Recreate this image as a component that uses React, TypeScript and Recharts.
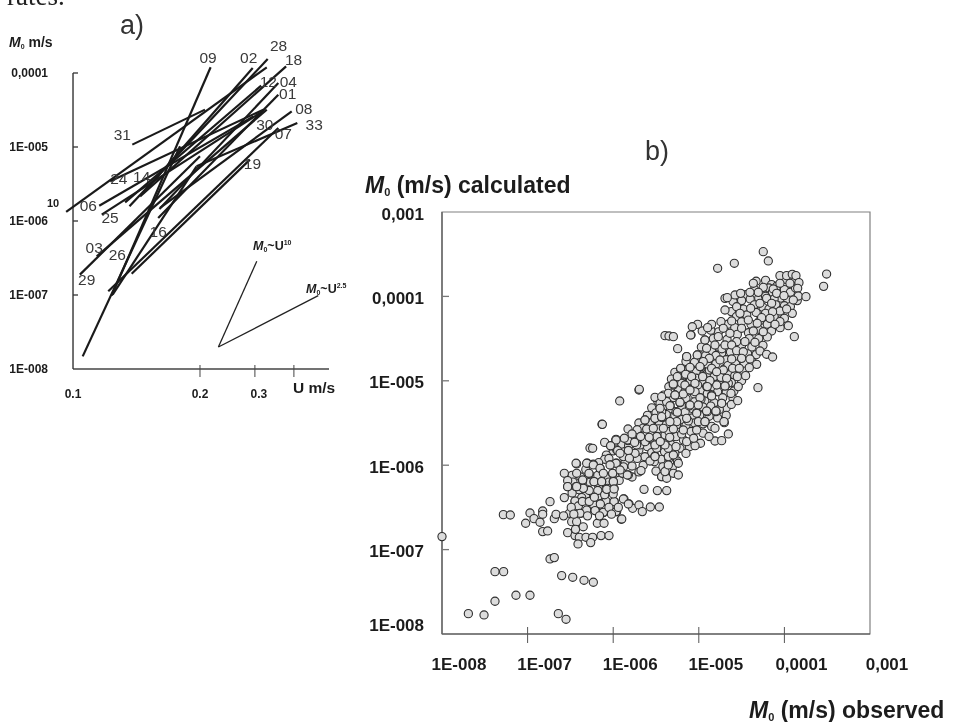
import React from "react";
import {
  ComposedChart,
  Line,
  ReferenceDot,
  ReferenceLine,
  ScatterChart,
  Scatter,
  ReferenceArea,
  XAxis,
  YAxis,
} from "recharts";

const FONT = '"Liberation Sans", Arial, sans-serif';
const INK = "#1c1c1c";

// panel a) everything is log10(U), log10(M0)
const uTicks = [-1.106, -0.699, -0.523, -0.398];
const uTickLabels = ["0.1", "0.2", "0.3", ""];
const moTicksA = [-8, -7, -6, -5, -4];
const moLabelsA = ["1E-008", "1E-007", "1E-006", "1E-005", "0,0001"];

const runs = [
  { id: "09", u: [-0.982, -0.665], m: [-7.009, -3.923] },
  { id: "02", u: [-0.881, -0.53], m: [-5.622, -3.932] },
  { id: "28", u: [-0.925, -0.482], m: [-5.802, -3.811] },
  { id: "10", u: [-1.128, -0.485], m: [-5.878, -3.923] },
  { id: "18", u: [-0.891, -0.423], m: [-5.667, -3.91] },
  { id: "12", u: [-0.939, -0.503], m: [-5.748, -4.171] },
  { id: "04", u: [-0.829, -0.448], m: [-5.838, -4.135] },
  { id: "01", u: [-0.833, -0.448], m: [-5.959, -4.293] },
  { id: "08", u: [-0.827, -0.405], m: [-5.824, -4.518] },
  { id: "33", u: [-0.71, -0.387], m: [-5.261, -4.676] },
  { id: "07", u: [-0.993, -0.448], m: [-6.95, -4.743] },
  { id: "19", u: [-0.918, -0.539], m: [-6.712, -5.171] },
  { id: "31", u: [-0.916, -0.683], m: [-4.968, -4.495] },
  { id: "24", u: [-0.987, -0.496], m: [-5.464, -4.495] },
  { id: "06", u: [-1.022, -0.528], m: [-5.793, -4.586] },
  { id: "25", u: [-1.014, -0.507], m: [-5.914, -4.541] },
  { id: "03", u: [-1.03, -0.485], m: [-6.477, -4.495] },
  { id: "29", u: [-1.084, -0.699], m: [-6.725, -5.126] },
  { id: "26", u: [-1.075, -0.763], m: [-7.829, -4.991] },
  { id: "16", u: [-0.979, -0.71], m: [-6.995, -5.261] },
];

const slopeGuides = [
  { id: "U10", u: [-0.64, -0.517], m: [-7.703, -6.545] },
  { id: "U2.5", u: [-0.64, -0.32], m: [-7.703, -7.009] },
];

const runLabels: [string, number, number][] = [
  ["09", -0.673, -3.788],
  ["02", -0.543, -3.788],
  ["28", -0.447, -3.631],
  ["18", -0.399, -3.811],
  ["12", -0.48, -4.113],
  ["04", -0.416, -4.113],
  ["01", -0.418, -4.279],
  ["08", -0.366, -4.486],
  ["33", -0.333, -4.698],
  ["07", -0.432, -4.82],
  ["30", -0.491, -4.698],
  ["19", -0.531, -5.225],
  ["31", -0.948, -4.833],
  ["24", -0.959, -5.432],
  ["14", -0.886, -5.396],
  ["06", -1.057, -5.793],
  ["25", -0.987, -5.95],
  ["03", -1.038, -6.356],
  ["26", -0.964, -6.455],
  ["16", -0.833, -6.14],
  ["29", -1.062, -6.793],
];

// panel b) log10(observed), log10(calculated)
const obsTicks = [-8, -7, -6, -5, -4, -3];
const calcTicks = [-8, -7, -6, -5, -4, -3];
const tickLabelsB = ["1E-008", "1E-007", "1E-006", "1E-005", "0,0001", "0,001"];

const lowTail: [number, number][] = [
  [-8.0, -6.846], [-7.283, -6.586], [-7.202, -6.59], [-7.692, -7.759], [-7.509, -7.774],
  [-7.381, -7.261], [-7.28, -7.261], [-7.381, -7.612], [-7.136, -7.541], [-6.972, -7.541],
  [-6.641, -7.759], [-6.551, -7.826], [-6.738, -7.111], [-6.688, -7.095], [-6.602, -7.308],
  [-6.473, -7.328], [-6.341, -7.364], [-6.232, -7.387], [-7.023, -6.688], [-6.972, -6.566],
  [-6.925, -6.633], [-6.855, -6.676], [-6.824, -6.542], [-6.824, -6.582], [-6.824, -6.787],
  [-6.766, -6.779], [-6.688, -6.633], [-6.668, -6.582], [-6.738, -6.432], [-6.571, -6.384],
  [-6.532, -6.799], [-6.446, -6.834], [-6.396, -6.854], [-6.318, -6.854], [-6.24, -6.854],
  [-6.142, -6.834], [-6.049, -6.834], [-6.411, -6.933], [-6.263, -6.917],
];

const lowerBand: [number, number][] = [
  [-6.512, -6.57], [-6.485, -6.669], [-6.427, -6.669], [-6.376, -6.57], [-6.298, -6.538],
  [-6.205, -6.538], [-6.115, -6.562], [-6.185, -6.688], [-6.107, -6.688], [-5.959, -6.55],
  [-5.905, -6.641], [-6.446, -6.432], [-6.415, -6.491], [-6.322, -6.372], [-6.232, -6.471],
  [-6.174, -6.364], [-6.088, -6.432], [-5.987, -6.432], [-5.874, -6.4], [-5.815, -6.459],
  [-5.773, -6.511], [-5.699, -6.471], [-5.66, -6.55], [-5.566, -6.495], [-5.461, -6.495],
  [-6.322, -6.364], [-6.368, -6.384], [-6.174, -6.364], [-6.446, -6.424], [-6.24, -6.412],
  [-6.084, -6.424], [-5.99, -6.432], [-5.881, -6.4], [-5.823, -6.459], [-6.407, -6.483],
  [-6.232, -6.463], [-6.31, -6.53], [-6.212, -6.538], [-6.388, -6.57], [-6.115, -6.558],
  [-5.967, -6.55], [-5.9, -6.637],
];

const midBand: [number, number][] = [
  [-6.571, -6.096], [-6.532, -6.183], [-6.532, -6.254], [-6.427, -5.985], [-6.427, -6.096],
  [-6.435, -6.254], [-6.349, -6.274], [-6.357, -6.183], [-6.302, -5.977], [-6.279, -6.104],
  [-6.232, -5.989], [-6.154, -6.037], [-6.224, -6.195], [-6.135, -6.195], [-6.068, -6.274],
  [-5.999, -6.195], [-5.99, -6.274], [-6.006, -6.104], [-5.893, -6.096], [-5.823, -6.116],
  [-6.03, -5.997], [-5.96, -5.977], [-5.675, -6.064], [-5.64, -6.286], [-5.484, -6.301],
  [-5.375, -6.301], [-5.57, -5.95], [-5.434, -6.136], [-5.375, -6.057], [-5.375, -6.136],
  [-6.434, -5.977], [-6.31, -5.977], [-6.232, -5.997], [-6.154, -6.037], [-6.283, -6.096],
  [-6.115, -6.096], [-6.006, -6.096], [-5.89, -6.096], [-6.357, -6.175], [-6.224, -6.195],
  [-6.135, -6.195], [-5.998, -6.195], [-6.076, -6.286], [-5.99, -6.282], [-6.349, -6.274],
  [-6.427, -6.254], [-6.532, -6.254], [-5.434, -6.135], [-5.375, -6.155], [-5.297, -6.096],
  [-5.239, -6.116], [-5.395, -6.076], [-5.959, -5.819], [-5.823, -5.827], [-5.745, -5.859],
  [-5.881, -5.898], [-5.967, -5.977], [-6.037, -5.997], [-5.92, -6.056], [-5.835, -6.116],
  [-5.356, -5.898], [-5.512, -5.891], [-5.297, -5.879], [-5.356, -5.997], [-5.239, -5.977],
];

const upperMidBand: [number, number][] = [
  [-6.131, -5.515], [-5.827, -5.571], [-6.271, -5.796], [-6.24, -5.8], [-6.03, -5.772],
  [-5.967, -5.701], [-5.948, -5.827], [-5.823, -5.709], [-5.823, -5.827], [-5.811, -5.918],
  [-5.92, -5.859], [-5.687, -5.76], [-5.617, -5.709], [-5.617, -5.563], [-5.512, -5.898],
  [-5.453, -5.622], [-5.395, -5.74], [-5.395, -5.563], [-5.609, -5.484], [-5.492, -5.484],
  [-5.356, -5.8], [-5.297, -5.563], [-5.297, -5.662], [-5.57, -5.681], [-5.492, -5.8],
  [-5.967, -5.693], [-5.835, -5.701], [-5.726, -5.721], [-5.628, -5.701], [-5.473, -5.504],
  [-5.648, -5.504], [-5.967, -5.701], [-5.831, -5.701], [-6.03, -5.769], [-5.726, -5.76],
  [-5.512, -5.76], [-5.395, -5.76], [-5.266, -5.78], [-5.628, -5.721], [-5.395, -5.642],
  [-5.266, -5.662], [-5.142, -5.721], [-5.044, -5.769], [-4.811, -5.713], [-4.733, -5.709],
  [-4.655, -5.63],
];

const denseCore: [number, number][] = [
  [-5.395, -4.465], [-5.348, -4.469], [-5.297, -4.477], [-5.091, -4.457], [-5.247, -4.619],
  [-5.699, -5.109], [-5.924, -5.239], [-6.127, -5.516], [-5.512, -5.196], [-4.928, -4.516],
  [-5.142, -4.714], [-5.017, -4.694], [-4.889, -4.753], [-4.822, -4.674], [-4.928, -4.655],
  [-4.733, -4.674], [-5.103, -4.832], [-5.212, -4.864], [-4.974, -4.832], [-4.877, -4.872],
  [-4.791, -4.892], [-4.694, -4.852], [-5.161, -4.931], [-5.247, -4.951], [-5.083, -4.951],
  [-4.955, -4.943], [-4.869, -5.01], [-4.741, -4.959], [-4.655, -5.03], [-5.297, -5.05],
  [-5.2, -5.03], [-5.103, -5.109], [-5.013, -5.05], [-4.908, -5.069], [-4.791, -5.05],
  [-4.694, -5.061], [-5.356, -5.148], [-5.278, -5.168], [-5.181, -5.156], [-5.044, -5.129],
  [-4.974, -5.216], [-4.85, -5.168], [-4.733, -5.267], [-5.453, -5.267], [-5.336, -5.287],
  [-5.22, -5.259], [-5.111, -5.298], [-5.025, -5.377], [-4.9, -5.366], [-4.799, -5.366],
  [-5.434, -5.366], [-5.512, -5.445], [-5.628, -5.464], [-5.609, -5.571], [-5.434, -5.433],
  [-5.266, -5.366], [-5.259, -5.484], [-5.122, -5.476], [-5.005, -5.484], [-4.928, -5.484],
  [-4.811, -5.563], [-4.702, -5.496], [-5.531, -5.563], [-5.414, -5.563], [-5.297, -5.571],
  [-5.181, -5.583], [-5.025, -5.583],
];

const upperBand: [number, number][] = [
  [-4.247, -3.47], [-4.188, -3.58], [-4.585, -3.608], [-4.78, -3.667], [-3.507, -3.735],
  [-3.542, -3.881], [-3.884, -4.477], [-4.309, -5.081], [-5.695, -5.101], [-4.052, -3.754],
  [-3.974, -3.754], [-3.908, -3.738], [-3.865, -3.754], [-4.052, -3.845], [-3.935, -3.845],
  [-3.83, -3.837], [-3.845, -3.904], [-4.363, -3.845], [-4.247, -3.893], [-4.13, -3.912],
  [-4.305, -3.952], [-4.402, -3.952], [-4.091, -3.964], [-4.005, -3.991], [-3.838, -3.995],
  [-3.748, -4.003], [-3.896, -4.043], [-4.577, -3.983], [-4.511, -3.964], [-4.694, -4.023],
  [-4.667, -4.015], [-4.208, -4.023], [-4.149, -4.082], [-4.286, -4.082], [-4.394, -4.141],
  [-4.558, -4.122], [-4.694, -4.161], [-4.519, -4.201], [-4.052, -4.173], [-4.138, -4.181],
  [-3.908, -4.201], [-3.974, -4.149], [-4.266, -4.252], [-4.169, -4.26], [-4.422, -4.28],
  [-4.616, -4.291], [-4.052, -4.299], [-3.954, -4.347], [-4.317, -4.319], [-4.11, -4.331],
  [-4.741, -4.299], [-4.85, -4.331], [-5.014, -4.331], [-5.076, -4.359], [-4.897, -4.37],
  [-4.714, -4.378], [-4.5, -4.378], [-4.363, -4.41], [-4.247, -4.418], [-4.636, -4.437],
  [-5.095, -4.457], [-4.928, -4.517], [-4.772, -4.477], [-4.558, -4.536], [-4.461, -4.536],
  [-4.344, -4.544], [-4.811, -4.576], [-4.694, -4.576], [-4.909, -4.615], [-4.616, -4.576],
  [-4.558, -4.643], [-4.48, -4.655], [-4.285, -4.647], [-4.208, -4.686], [-4.138, -4.718],
  [-5.018, -4.694], [-5.142, -4.714], [-4.877, -4.734], [-4.5, -4.734], [-4.753, -4.753],
  [-4.616, -4.742], [-4.402, -4.742], [-4.324, -4.805], [-4.41, -4.844], [-4.948, -4.773],
  [-5.212, -4.852], [-5.103, -4.84], [-4.986, -4.832], [-4.85, -4.852], [-4.714, -4.872],
  [-4.605, -4.852], [-4.527, -4.852], [-4.792, -4.892], [-5.251, -4.951], [-5.154, -4.923],
  [-5.084, -4.951], [-4.955, -4.951], [-4.87, -4.998], [-4.55, -4.951], [-4.453, -4.939],
  [-4.675, -4.971], [-5.298, -5.038], [-5.162, -5.05], [-5.045, -5.03], [-4.901, -5.069],
  [-4.694, -5.061], [-4.539, -5.069], [-5.103, -5.109], [-5.278, -5.168], [-4.986, -5.2],
  [-4.85, -5.18], [-4.624, -5.149], [-4.546, -5.235], [-4.733, -5.267], [-5.22, -5.255],
  [-5.103, -5.287], [-5.006, -5.287], [-5.376, -5.247], [-5.434, -5.188], [-5.453, -5.326],
  [-5.337, -5.295], [-4.909, -5.358], [-4.8, -5.358], [-5.251, -5.373], [-5.434, -5.425],
  [-5.142, -5.445], [-5.025, -5.385], [-5.629, -5.464], [-4.706, -5.484], [-5.337, -5.484],
  [-4.928, -5.484],
];

// second pass through the crowded part of the cloud
const crowdedTop: [number, number][] = [
  [-4.33, -3.82], [-4.22, -3.81], [-4.15, -3.86], [-3.98, -3.8], [-3.89, -3.79], [-4.09, -3.88],
  [-4.18, -3.9], [-4.0, -3.92], [-3.93, -3.95], [-3.87, -3.9], [-4.26, -3.96], [-4.35, -3.92],
  [-4.45, -3.98], [-4.14, -3.95], [-4.04, -4.02], [-3.96, -4.05], [-3.85, -4.05], [-4.3, -4.02],
  [-4.22, -4.0], [-4.12, -4.03], [-4.4, -4.03], [-4.5, -4.05], [-4.6, -4.06], [-4.35, -4.1],
  [-4.25, -4.13], [-4.1, -4.1], [-4.0, -4.11], [-3.93, -4.12], [-4.18, -4.15], [-4.48, -4.15],
  [-4.62, -4.18], [-4.05, -4.2], [-4.22, -4.2], [-4.33, -4.19], [-4.44, -4.22], [-4.56, -4.24],
  [-4.12, -4.24], [-4.0, -4.26], [-4.29, -4.29], [-4.39, -4.33], [-4.5, -4.3], [-4.2, -4.33],
  [-4.66, -4.33], [-4.58, -4.37], [-4.05, -4.37], [-4.3, -4.39], [-4.42, -4.43], [-4.15, -4.41],
  [-4.77, -4.42], [-4.86, -4.4], [-4.96, -4.41], [-4.55, -4.45], [-4.2, -4.48], [-4.3, -4.5],
  [-4.67, -4.51], [-4.41, -4.5], [-4.83, -4.5], [-4.5, -4.58], [-4.38, -4.6], [-4.25, -4.58],
  [-4.73, -4.62], [-4.63, -4.66], [-4.85, -4.64], [-4.97, -4.6], [-4.43, -4.68], [-4.33, -4.69],
  [-4.56, -4.72], [-4.8, -4.7], [-4.68, -4.75], [-4.92, -4.7], [-5.05, -4.78], [-4.47, -4.79],
  [-4.57, -4.8], [-4.37, -4.78], [-4.8, -4.8], [-4.9, -4.8], [-5.15, -4.77], [-4.66, -4.82],
];

const crowdedMiddle: [number, number][] = [
  [-4.47, -4.88], [-4.75, -4.92], [-4.65, -4.9], [-4.9, -4.91], [-5.03, -4.89], [-5.17, -4.88],
  [-5.28, -4.9], [-4.58, -4.94], [-4.82, -4.95], [-5.03, -4.97], [-5.2, -4.98], [-5.32, -4.98],
  [-4.5, -5.0], [-4.62, -5.02], [-4.75, -5.02], [-4.95, -5.02], [-5.1, -5.0], [-5.24, -5.09],
  [-5.35, -5.07], [-4.82, -5.08], [-4.96, -5.11], [-4.59, -5.12], [-4.68, -5.14], [-4.78, -5.13],
  [-5.16, -5.12], [-5.05, -5.16], [-4.9, -5.15], [-5.41, -5.17], [-5.3, -5.2], [-4.72, -5.2],
  [-4.6, -5.21], [-5.15, -5.21], [-4.93, -5.24], [-4.82, -5.26], [-5.48, -5.24], [-5.05, -5.25],
  [-5.2, -5.3], [-5.33, -5.33], [-4.95, -5.31], [-5.07, -5.33], [-4.68, -5.32], [-4.86, -5.3],
  [-4.76, -5.34], [-5.55, -5.32], [-5.41, -5.3], [-4.62, -5.28], [-5.16, -5.37], [-4.99, -5.41],
  [-5.28, -5.41], [-4.88, -5.42], [-4.78, -5.44], [-5.5, -5.38], [-5.38, -5.4], [-5.08, -5.44],
  [-5.6, -5.41], [-5.2, -5.46], [-4.68, -5.41], [-5.46, -5.49], [-5.57, -5.5], [-5.7, -5.5],
  [-4.95, -5.51], [-5.05, -5.5], [-5.26, -5.52], [-5.15, -5.53], [-4.85, -5.54], [-5.38, -5.52],
  [-5.65, -5.56], [-5.72, -5.58], [-5.47, -5.57], [-5.56, -5.6], [-5.35, -5.6], [-5.09, -5.6],
  [-4.95, -5.62], [-5.2, -5.63], [-5.78, -5.63], [-5.68, -5.66], [-5.49, -5.66], [-5.34, -5.67],
  [-5.58, -5.67], [-4.88, -5.66], [-5.06, -5.68], [-5.87, -5.68], [-5.75, -5.73], [-5.45, -5.72],
];

const crowdedLower: [number, number][] = [
  [-5.18, -5.7], [-5.9, -5.75], [-5.6, -5.78], [-5.47, -5.79], [-5.33, -5.75], [-5.22, -5.8],
  [-5.11, -5.78], [-4.98, -5.74], [-5.82, -5.77], [-5.7, -5.82], [-5.4, -5.84], [-5.28, -5.86],
  [-6.1, -5.73], [-5.55, -5.85], [-5.63, -5.9], [-5.15, -5.86], [-5.44, -5.93], [-5.35, -5.92],
  [-5.72, -5.92], [-5.86, -5.96], [-6.0, -5.83], [-6.08, -5.88], [-5.52, -5.96], [-5.25, -5.95],
  [-5.65, -6.0], [-5.78, -6.01], [-5.42, -6.02], [-5.31, -6.03], [-5.88, -6.02], [-6.1, -5.93],
  [-6.17, -5.97], [-6.05, -5.92], [-5.5, -6.07], [-5.7, -6.08], [-5.95, -6.13], [-6.06, -6.14],
  [-6.18, -6.12], [-5.78, -6.14], [-6.32, -6.05], [-6.38, -6.14], [-6.48, -6.12], [-6.27, -6.2],
  [-6.17, -6.24], [-6.05, -6.2], [-5.93, -6.18], [-6.47, -6.2], [-6.4, -6.29], [-6.28, -6.3],
  [-6.18, -6.3], [-6.0, -6.34], [-6.1, -6.35], [-6.48, -6.33], [-6.36, -6.43], [-6.28, -6.43],
  [-6.15, -6.46], [-6.05, -6.5], [-6.49, -6.5], [-6.3, -6.6], [-6.46, -6.58], [-6.16, -6.6],
  [-6.58, -6.6], [-6.02, -6.58], [-6.44, -6.76], [-6.35, -6.73], [-5.94, -6.5], [-6.22, -6.38],
];

const toPoints = (rows: [number, number][]) => rows.map(([obs, calc]) => ({ obs, calc }));
const scatterData = toPoints([
  ...lowTail,
  ...lowerBand,
  ...crowdedLower,
  ...midBand,
  ...upperMidBand,
  ...crowdedMiddle,
  ...denseCore,
  ...crowdedTop,
  ...upperBand,
]);

function TickA({ x, y, payload, index }: any) {
  return (
    <g>
      {index > 0 && <line x1={x} x2={x} y1={y - 4} y2={y + 8} stroke="#444" strokeWidth={1} />}
      <text x={x + (index === 2 ? 4 : 0)} y={y + 25} textAnchor="middle" dominantBaseline="central" fontSize={12} fontWeight="bold" fontFamily={FONT} fill={INK}>
        {uTickLabels[uTicks.indexOf(payload.value)]}
      </text>
    </g>
  );
}

function YTickA({ y, payload, index }: any) {
  return (
    <g>
      {index > 0 && <line x1={73} x2={78} y1={y} y2={y} stroke="#333" strokeWidth={1.3} />}
      <text x={48} y={y} textAnchor="end" dominantBaseline="central" fontSize={12} fontWeight="bold" fontFamily={FONT} fill={INK}>
        {moLabelsA[moTicksA.indexOf(payload.value)]}
      </text>
    </g>
  );
}

function XTickB({ x, y, payload, index }: any) {
  const edge = index === 0 || index === obsTicks.length - 1;
  return (
    <g>
      {!edge && <line x1={x} x2={x} y1={y - 7} y2={y + 9} stroke="#555" strokeWidth={1} />}
      <text x={x + 17} y={y + 30} textAnchor="middle" dominantBaseline="central" fontSize={17} fontWeight="bold" fontFamily={FONT} fill={INK}>
        {tickLabelsB[obsTicks.indexOf(payload.value)]}
      </text>
    </g>
  );
}

function YTickB({ x, y, payload }: any) {
  const v = payload.value;
  const edge = v === -8 || v === -3;
  return (
    <g>
      {!edge && <line x1={x} x2={x + 7} y1={y} y2={y} stroke="#777" strokeWidth={1.3} />}
      <text x={424} y={y + (v === -8 ? -9 : 2)} textAnchor="end" dominantBaseline="central" fontSize={17} fontWeight="bold" fontFamily={FONT} fill={INK}>
        {tickLabelsB[calcTicks.indexOf(v)]}
      </text>
    </g>
  );
}

function PanelA() {
  return (
    <ComposedChart width={345} height={400} margin={{ top: 58.2, right: 16, left: 0, bottom: 0 }} style={{ position: "absolute", left: 0, top: 0 }}>
      <XAxis
        dataKey="u"
        type="number"
        domain={[-1.1413, -0.2855]}
        ticks={uTicks}
        interval={0}
        height={31}
        tickSize={0}
        tickMargin={0}
        tickLine={false}
        axisLine={false}
        tick={TickA}
      />
      <YAxis
        type="number"
        domain={[-8, -3.8]}
        ticks={moTicksA}
        interval={0}
        width={62}
        tickSize={0}
        tickMargin={0}
        tickLine={false}
        axisLine={false}
        tick={YTickA}
      />
      <ReferenceLine segment={[{ x: -1.106, y: -8 }, { x: -0.2855, y: -8 }]} stroke="#444" strokeWidth={1.4} />
      <ReferenceLine segment={[{ x: -1.106, y: -8 }, { x: -1.106, y: -4 }]} stroke="#333" strokeWidth={1.4} />
      {runs.map((r) => (
        <Line
          key={r.id}
          data={r.u.map((u, i) => ({ u, m: r.m[i] }))}
          dataKey="m"
          stroke="#1a1a1a"
          strokeWidth={2.2}
          dot={false}
          isAnimationActive={false}
        />
      ))}
      {slopeGuides.map((r) => (
        <Line
          key={r.id}
          data={r.u.map((u, i) => ({ u, m: r.m[i] }))}
          dataKey="m"
          stroke="#222"
          strokeWidth={1.3}
          dot={false}
          isAnimationActive={false}
        />
      ))}
      {runLabels.map(([id, u, m]) => (
        <ReferenceDot
          key={id}
          x={u}
          y={m}
          r={0}
          ifOverflow="visible"
          label={{ value: id, position: "center", fontSize: 15.5, fontFamily: FONT, fill: "#3a3a3a" }}
        />
      ))}
    </ComposedChart>
  );
}

function PanelB() {
  return (
    <ScatterChart width={955} height={722} margin={{ top: 212, right: 85, left: 0, bottom: 0 }} style={{ position: "absolute", left: 0, top: 0 }}>
      <ReferenceArea x1={-8} x2={-3} y1={-8} y2={-3} fill="none" stroke="#808080" strokeWidth={1.2} />
      <XAxis
        dataKey="obs"
        type="number"
        domain={[-8, -3]}
        ticks={obsTicks}
        interval={0}
        height={88}
        tickSize={0}
        tickMargin={0}
        tickLine={false}
        axisLine={{ stroke: "#444", strokeWidth: 1.2 }}
        tick={XTickB}
      />
      <YAxis
        dataKey="calc"
        type="number"
        domain={[-8, -3]}
        ticks={calcTicks}
        interval={0}
        width={442}
        tickSize={0}
        tickMargin={0}
        tickLine={false}
        axisLine={{ stroke: "#666", strokeWidth: 1.4 }}
        tick={YTickB}
      />
      <Scatter
        data={scatterData}
        isAnimationActive={false}
        shape={(p: any) => <circle cx={p.cx} cy={p.cy} r={4.1} fill="#dcdcdc" stroke="#2e2e2e" strokeWidth={1.1} />}
      />
    </ScatterChart>
  );
}

function Annotations() {
  const bold = { fontFamily: FONT, fontWeight: "bold" as const, fill: INK };
  return (
    <svg width={955} height={722} style={{ position: "absolute", left: 0, top: 0, pointerEvents: "none" }}>
      <text x={7} y={4.5} fontFamily='"Liberation Serif", serif' fontSize={27} fill="#222">rates.</text>
      <text x={120} y={34} fontFamily={FONT} fontSize={27} fill="#333">a)</text>
      <text x={645} y={160} fontFamily={FONT} fontSize={27} fill="#333">b)</text>

      <text x={9} y={47} fontSize={14} {...bold}>
        <tspan fontStyle="italic">M</tspan><tspan fontSize={7} dy={2}>0</tspan><tspan dy={-2}> m/s</tspan>
      </text>
      <text x={293} y={393} fontSize={15.5} {...bold}>U m/s</text>
      <text x={47} y={207} fontSize={11} {...bold}>10</text>

      <text x={253} y={250} fontSize={12.5} {...bold}>
        <tspan fontStyle="italic">M</tspan><tspan fontSize={7} dy={2}>0</tspan><tspan dy={-2}>~U</tspan><tspan fontSize={7} dy={-5}>10</tspan>
      </text>
      <text x={306} y={293} fontSize={12.5} {...bold}>
        <tspan fontStyle="italic">M</tspan><tspan fontSize={7} dy={2}>0</tspan><tspan dy={-2}>~U</tspan><tspan fontSize={7} dy={-5}>2.5</tspan>
      </text>

      <text x={365} y={193} fontSize={23} {...bold}>
        <tspan fontStyle="italic">M</tspan><tspan fontSize={11} dy={3}>0</tspan><tspan dy={-3}> (m/s) calculated</tspan>
      </text>
      <text x={749} y={718} fontSize={23} {...bold}>
        <tspan fontStyle="italic">M</tspan><tspan fontSize={11} dy={3}>0</tspan><tspan dy={-3}> (m/s) observed</tspan>
      </text>
    </svg>
  );
}

export default function App() {
  return (
    <div style={{ position: "absolute", left: 0, top: 0, width: 955, height: 722, overflow: "hidden", background: "#fff", filter: "blur(0.35px)" }}>
      <PanelA />
      <PanelB />
      <Annotations />
    </div>
  );
}
